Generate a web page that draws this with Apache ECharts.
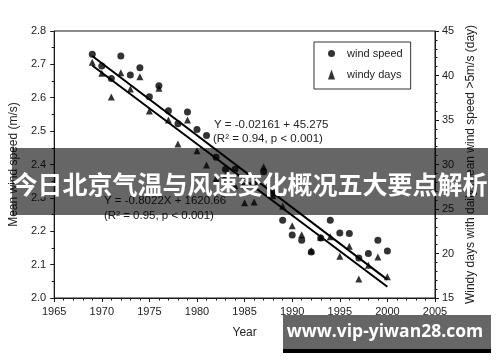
<!DOCTYPE html>
<html>
<head>
<meta charset="utf-8">
<script src="https://cdn.jsdelivr.net/npm/echarts@6/dist/echarts.min.js"></script>
<style>html,body{margin:0;padding:0;background:#fff;}#c{width:500px;height:362px;}</style>
</head>
<body>
<div id="c"></div>
<script>
// ---- data ----
const years = [1969,1970,1971,1972,1973,1974,1975,1976,1977,1978,1979,1980,1981,1982,1983,1984,
               1985,1986,1987,1988,1989,1990,1991,1992,1993,1994,1995,1996,1997,1998,1999,2000];
const windSpeed = [2.730,2.695,2.658,2.725,2.668,2.690,2.603,2.636,2.561,2.522,2.557,2.505,2.487,2.422,2.386,2.386,
                   2.335,2.345,2.378,2.314,2.233,2.189,2.173,2.138,2.180,2.233,2.195,2.193,2.120,2.133,2.173,2.141];
const windyDays = [41.48,40.25,37.58,40.31,38.48,39.87,36.01,38.56,35.0,32.3,35.0,31.55,29.94,28.4,28.8,27.6,
                   25.7,25.8,29.75,26.5,25.3,23.12,22.11,20.3,21.82,21.89,19.69,20.81,17.13,18.67,19.6,17.39];
const speedFit = [[1969,2.725],[2000,2.055]];
const daysFit = [[1969,41.13],[2000,16.26]];
const xTicks = {min:1965, max:2005, step:5};
const ySpeedTicks = {min:2.0, max:2.8, step:0.1};
const yDaysTicks = {min:15, max:45, step:5};
const seriesNames = ['wind speed','windy days'];
const eq1 = ['Y = -0.02161 + 45.275', '(R\u00B2 = 0.94, p < 0.001)'];
const eq2 = ['Y = -0.8022X + 1620.66', '(R\u00B2 = 0.95, p < 0.001)'];
const bannerText = '今日北京气温与风速变化概况五大要点解析';
const watermark = 'www.vip-yiwan28.com';

const ink = '#1a1a1a';
const font = 'Liberation Sans, Arial, sans-serif';
const chart = echarts.init(document.getElementById('c'), null, {renderer:'canvas'});
const axisCommon = {
  axisLine:{show:true, lineStyle:{color:ink, width:1}},
  axisTick:{show:true, inside:false, length:4, lineStyle:{color:ink}},
  minorTick:{show:true, length:2.5, lineStyle:{color:ink}},
  splitLine:{show:false},
  axisLabel:{color:'#222', fontSize:11, fontFamily:font},
  nameTextStyle:{color:'#222', fontSize:12, fontFamily:font}
};
chart.setOption({
  animation:false,
  backgroundColor:'#fff',
  grid:{left:51, right:65, top:31, bottom:64, show:true, borderColor:ink, borderWidth:1},
  legend:{
    orient:'vertical', left:314, top:42, width:96,
    padding:[6,8,9,14], itemGap:10, itemWidth:7, itemHeight:10,
    borderColor:'#333', borderWidth:1,
    textStyle:{color:'#222', fontSize:11, fontFamily:font, padding:[0,0,0,7]},
    data:[{name:seriesNames[0], icon:'circle'},{name:seriesNames[1], icon:'triangle'}]
  },
  xAxis:Object.assign({}, axisCommon, {
    type:'value', min:xTicks.min, max:xTicks.max, interval:xTicks.step,
    minorTick:{show:true, splitNumber:5, length:2.5, lineStyle:{color:ink}},
    axisLabel:Object.assign({}, axisCommon.axisLabel, {margin:8, formatter:v=>String(v)}),
    name:'Year', nameLocation:'middle', nameGap:29
  }),
  yAxis:[
    Object.assign({}, axisCommon, {
      type:'value', min:ySpeedTicks.min, max:ySpeedTicks.max, interval:ySpeedTicks.step, position:'left',
      minorTick:{show:true, splitNumber:2, length:2.5, lineStyle:{color:ink}},
      axisLabel:Object.assign({}, axisCommon.axisLabel, {margin:8, formatter:v=>v.toFixed(1)}),
      name:'Mean wind speed (m/s)', nameLocation:'middle', nameGap:29, nameRotate:90
    }),
    Object.assign({}, axisCommon, {
      type:'value', min:yDaysTicks.min, max:yDaysTicks.max, interval:yDaysTicks.step, position:'right',
      minorTick:{show:true, splitNumber:5, length:2.5, lineStyle:{color:ink}},
      axisLabel:Object.assign({}, axisCommon.axisLabel, {margin:7}),
      name:'Windy days with daily mean wind speed >5m/s (day)', nameLocation:'middle', nameGap:29, nameRotate:90
    })
  ],
  series:[
    {name:seriesNames[0], type:'scatter', yAxisIndex:0, symbol:'circle', symbolSize:7,
     itemStyle:{color:'#000'}, data:years.map((y,i)=>[y,windSpeed[i]]), z:5},
    {name:seriesNames[1], type:'scatter', yAxisIndex:1, symbol:'triangle', symbolSize:7,
     itemStyle:{color:'#000'}, data:years.map((y,i)=>[y,windyDays[i]]), z:5},
    {type:'line', yAxisIndex:0, data:speedFit, symbol:'none', lineStyle:{color:'#000', width:2}, silent:true, z:4},
    {type:'line', yAxisIndex:1, data:daysFit, symbol:'none', lineStyle:{color:'#000', width:2}, silent:true, z:4}
  ],
  graphic:[
    {type:'text', left:214, top:119, z:10, style:{text:eq1[0], fill:'#222', font:'11.5px '+font}},
    {type:'text', left:213, top:133, z:10, style:{text:eq1[1], fill:'#222', font:'11.5px '+font}},
    {type:'text', left:104, top:195, z:10, style:{text:eq2[0], fill:'#222', font:'11.5px '+font}},
    {type:'text', left:104, top:210, z:10, style:{text:eq2[1], fill:'#222', font:'11.5px '+font}},
    {type:'rect', shape:{x:12, y:148, width:476, height:67}, z:20, style:{fill:'rgba(0,0,0,0.6)'}},
    {type:'text', x:250, y:184, z:21, style:{text:bannerText, fill:'#fff', align:'center', verticalAlign:'middle',
      font:'bold 25px "Noto Sans CJK SC", sans-serif'}},
    {type:'rect', shape:{x:283, y:315, width:208, height:34}, z:20, style:{fill:'rgba(0,0,0,0.6)'}},
    {type:'rect', shape:{x:283, y:349, width:208, height:4}, z:20, style:{fill:'#000'}},
    {type:'text', x:385, y:332, z:21, style:{text:watermark, fill:'#fff', align:'center', verticalAlign:'middle',
      font:'bold 17.5px "Open Sans", "Noto Sans", sans-serif'}}
  ]
});
</script>
</body>
</html>
